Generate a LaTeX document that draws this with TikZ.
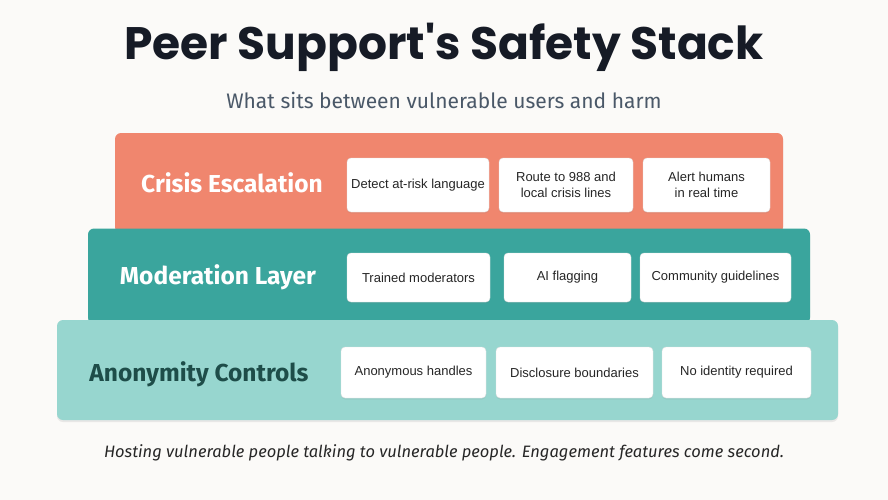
\documentclass[tikz,border=0pt]{standalone}
\usepackage{fontspec}
\setmainfont{Fira Sans}
\newfontfamily\titlefont{Poppins}
\newfontfamily\itemfont{Liberation Sans}
\usetikzlibrary{shadows}
\definecolor{bg}{HTML}{FBFAF8}
\definecolor{salmon}{HTML}{F0866E}
\definecolor{teal}{HTML}{3AA59D}
\definecolor{lteal}{HTML}{97D6CF}
\definecolor{dteal}{HTML}{1E4D49}
\definecolor{titlec}{HTML}{161B26}
\definecolor{subc}{HTML}{4A5868}
\tikzset{
 layer/.style={rounded corners=6pt, draw=none, drop shadow={opacity=0.15,shadow xshift=0pt,shadow yshift=-2pt}},
 item/.style={fill=white, draw=black!12, rounded corners=4pt, font=\itemfont\fontsize{13}{16}\selectfont, text=black!85, align=center, inner sep=0pt, drop shadow={opacity=0.12,shadow xshift=0pt,shadow yshift=-1.5pt}},
 lab/.style={font=\fontsize{24.5}{28}\selectfont\bfseries, anchor=center}
}
\begin{document}
\begin{tikzpicture}[x=1pt,y=-1pt]
\fill[bg] (0,0) rectangle (888,500);
\useasboundingbox (0,0) rectangle (888,500);
\node[font=\titlefont\fontsize{45.5}{50}\selectfont\bfseries, text=titlec] (title) at (444,47) {Peer Support's Safety Stack};
\node[font=\fontsize{21}{24}\selectfont, text=subc] (sub) at (444,100) {What sits between vulnerable users and harm};
% layers
\node[layer, fill=salmon, minimum width=668pt, minimum height=100pt] (L1) at (449,183) {};
\node[layer, fill=teal, minimum width=722pt, minimum height=95pt] (L2) at (449,276) {};
\node[layer, fill=lteal, minimum width=781pt, minimum height=100pt] (L3) at (447.5,370) {};
\node[lab, text=white] (l1) at (232,183) {Crisis Escalation};
\node[lab, text=white] (l2) at (218,277) {Moderation Layer};
\node[lab, text=dteal] (l3) at (199,374) {Anonymity Controls};
% items
\node[item, minimum width=142pt, minimum height=54pt] (a1) at (418,185) {Detect at-risk language};
\node[item, minimum width=134pt, minimum height=54pt] (a2) at (566,185) {Route to 988 and\\local crisis lines};
\node[item, minimum width=127pt, minimum height=54pt] (a3) at (706.5,185) {Alert humans\\in real time};
\node[item, minimum width=143pt, minimum height=49pt] (b1) at (418.5,277.5) {Trained moderators};
\node[item, minimum width=127pt, minimum height=49pt] (b2) at (567.5,277.5) {AI flagging};
\node[item, minimum width=151pt, minimum height=49pt] (b3) at (715.5,277.5) {Community guidelines};
\node[item, minimum width=145pt, minimum height=51pt] (c1) at (413.5,372.5) {Anonymous handles};
\node[item, minimum width=157pt, minimum height=51pt] (c2) at (574.5,372.5) {Disclosure boundaries};
\node[item, minimum width=149pt, minimum height=51pt] (c3) at (736.5,372.5) {No identity required};
\node[font=\fontsize{16.5}{19}\selectfont\itshape, text=black!85] (foot) at (444,453) {Hosting vulnerable people talking to vulnerable people. Engagement features come second.};
\end{tikzpicture}
\end{document}
